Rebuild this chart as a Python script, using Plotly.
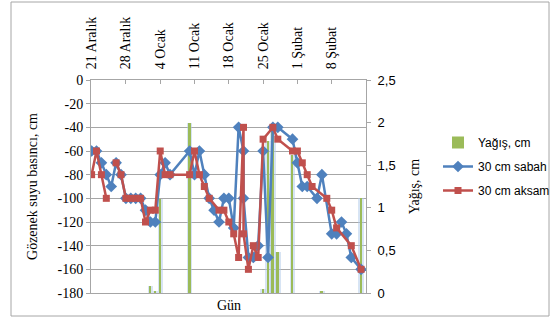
import plotly.graph_objects as go

# ---------------- data ----------------
sabah_tarih = ["2013-12-21", "2013-12-22", "2013-12-23", "2013-12-24", "2013-12-25", "2013-12-26",
               "2013-12-27", "2013-12-28", "2013-12-29", "2013-12-30", "2013-12-31", "2014-01-01",
               "2014-01-02", "2014-01-03", "2014-01-04", "2014-01-05", "2014-01-06", "2014-01-10",
               "2014-01-11", "2014-01-12", "2014-01-13", "2014-01-14", "2014-01-15", "2014-01-16",
               "2014-01-17", "2014-01-18", "2014-01-19", "2014-01-20", "2014-01-21", "2014-01-21",
               "2014-01-22", "2014-01-23", "2014-01-24", "2014-01-25", "2014-01-26", "2014-01-27",
               "2014-01-28", "2014-01-31", "2014-02-01", "2014-02-02", "2014-02-03", "2014-02-05",
               "2014-02-06", "2014-02-08", "2014-02-09", "2014-02-10", "2014-02-11", "2014-02-12",
               "2014-02-14"]
sabah = [-60, -60, -70, -80, -90, -70,
         -80, -100, -100, -100, -100, -110,
         -120, -120, -80, -70, -80, -60,
         -80, -60, -80, -100, -110, -120,
         -100, -100, -125, -40, -60, -100,
         -150, -150, -140, -60, -150, -40,
         -40, -50, -70, -90, -90, -100,
         -80, -130, -130, -120, -130, -150,
         -160]

aksam_tarih = ["2013-12-21", "2013-12-22", "2013-12-23", "2013-12-24", "2013-12-25", "2013-12-26",
               "2013-12-27", "2013-12-28", "2013-12-29", "2013-12-30", "2013-12-31", "2014-01-01",
               "2014-01-02", "2014-01-03", "2014-01-04", "2014-01-05", "2014-01-06", "2014-01-10",
               "2014-01-11", "2014-01-12", "2014-01-13", "2014-01-14", "2014-01-16", "2014-01-17",
               "2014-01-18", "2014-01-19", "2014-01-20", "2014-01-21", "2014-01-21", "2014-01-22",
               "2014-01-23", "2014-01-24", "2014-01-25", "2014-01-27", "2014-01-28", "2014-01-31",
               "2014-02-01", "2014-02-02", "2014-02-03", "2014-02-04", "2014-02-07", "2014-02-08",
               "2014-02-09", "2014-02-12", "2014-02-14"]
aksam = [-80, -60, -80, -100, None, -70,
         -80, -100, -100, -100, -100, -120,
         -110, -110, -60, -80, -80, -80,
         -60, -80, -90, -100, -110, -110,
         -120, -130, -150, -40, -130, -160,
         -140, -150, -50, -40, -50, -60,
         -60, -70, -80, -90, -100, -110,
         -125, -140, -160]

yagis_tarih = ["2014-01-02", "2014-01-03", "2014-01-04", "2014-01-10", "2014-01-25", "2014-01-26",
               "2014-01-27", "2014-01-28", "2014-01-31", "2014-02-06", "2014-02-14"]
yagis = [0.08, 0.02, 1.1, 2.0, 0.05, 1.78, 1.95, 0.48, 1.62, 0.02, 1.11]

x_tick_tarih = ["2013-12-21", "2013-12-28", "2014-01-04", "2014-01-11",
                "2014-01-18", "2014-01-25", "2014-02-01", "2014-02-08"]
x_tick_etiket = ["21 Aralık", "28 Aralık", "4 Ocak", "11 Ocak",
                 "18 Ocak", "25 Ocak", "1 Şubat", "8 Şubat"]
sol_tick_deger = [0, -20, -40, -60, -80, -100, -120, -140, -160, -180]
sol_tick_etiket = ["0", "-20", "-40", "-60", "-80", "-100", "-120", "-140", "-160", "-180"]
sag_tick_deger = [0, 0.5, 1, 1.5, 2, 2.5]
sag_tick_etiket = ["0", "0,5", "1", "1,5", "2", "2,5"]

# ---------------- styling ----------------
SERIF = "Liberation Serif, Times New Roman, serif"
SANS = "Liberation Sans, Arial, sans-serif"
GRID = "#A6A6A6"
DAY_MS = 86400000

fig = go.Figure()

# glow behind the rain bars
fig.add_trace(go.Bar(x=yagis_tarih, y=yagis, width=1.1 * DAY_MS, marker_color="rgba(175,202,234,0.5)",
                     marker_line_width=0, showlegend=False, hoverinfo="skip", yaxis="y"))
fig.add_trace(go.Bar(x=yagis_tarih, y=yagis, width=0.38 * DAY_MS, marker_color="#9BBB59",
                     marker_line_width=0, name="Yağış, cm", legendgroup="a", yaxis="y"))

fig.add_trace(go.Scatter(x=sabah_tarih, y=sabah, mode="lines+markers", name="30 cm sabah",
                         legendgroup="b", yaxis="y2",
                         line=dict(color="#4F81BD", width=2.5),
                         marker=dict(symbol="diamond", size=9, color="#4F81BD")))
fig.add_trace(go.Scatter(x=aksam_tarih, y=aksam, mode="lines+markers", name="30 cm aksam",
                         legendgroup="c", yaxis="y2", connectgaps=False,
                         line=dict(color="#C0504D", width=2.5),
                         marker=dict(symbol="square", size=7, color="#C0504D")))

PL, PR, PT, PB = 91, 366, 80, 293
W, H = 556, 329


def px(xp):
    return (xp - PL) / (PR - PL)


def py(yp):
    return (PB - yp) / (PB - PT)


fig.update_layout(
    width=W, height=H,
    margin=dict(l=PL, r=W - PR, t=PT, b=H - PB, autoexpand=False),
    paper_bgcolor="white", plot_bgcolor="white",
    barmode="overlay", bargap=0,
    showlegend=True,
    legend=dict(x=px(438), y=py(128), xanchor="left", yanchor="top",
                font=dict(family=SANS, size=12, color="#000"),
                traceorder="grouped", tracegroupgap=5, bgcolor="rgba(0,0,0,0)"),
    xaxis=dict(type="date", side="top", range=["2013-12-20 21:00", "2014-02-15 00:00"],
               tickvals=x_tick_tarih, ticktext=x_tick_etiket, tickangle=-90,
               tickfont=dict(family=SERIF, size=14, color="#000"),
               ticks="inside", ticklen=4, tickcolor=GRID,
               showline=True, linecolor=GRID, linewidth=1, mirror=True,
               showgrid=False, zeroline=False, ticklabelstandoff=7, automargin=False),
    yaxis=dict(side="right", range=[0, 2.5], tickvals=sag_tick_deger, ticktext=sag_tick_etiket,
               tickfont=dict(family=SANS, size=13, color="#000"),
               ticks="outside", ticklen=4, tickcolor=GRID, automargin=False, ticklabelstandoff=4,
               showline=True, linecolor=GRID, linewidth=1, showgrid=False, zeroline=False,
               title=dict(text="Yağış, cm", font=dict(family=SERIF, size=14, color="#000"), standoff=14)),
    yaxis2=dict(side="left", overlaying="y", range=[-180, 0],
                tickvals=sol_tick_deger, ticktext=sol_tick_etiket,
                tickfont=dict(family=SERIF, size=14, color="#000"),
                ticks="outside", ticklen=4, tickcolor=GRID, automargin=False,
                showline=True, linecolor=GRID, linewidth=1,
                showgrid=True, gridcolor=GRID, gridwidth=1, zeroline=False,
                title=dict(text="Gözenek suyu basıncı, cm", font=dict(family=SERIF, size=14, color="#000"),
                           standoff=16)),
    annotations=[dict(text="Gün", xref="paper", yref="paper", x=0.5, y=py(305), showarrow=False,
                      font=dict(family=SERIF, size=14, color="#000"), xanchor="center", yanchor="middle")],
    shapes=[dict(type="rect", xref="paper", yref="paper", x0=px(11), x1=px(549), y0=py(316), y1=py(2),
                 line=dict(color="#A6A6A6", width=1), fillcolor="rgba(0,0,0,0)", layer="below")],
)

fig.write_html("out.html", config={"displayModeBar": False},
               post_script="document.body.style.margin='0';")
